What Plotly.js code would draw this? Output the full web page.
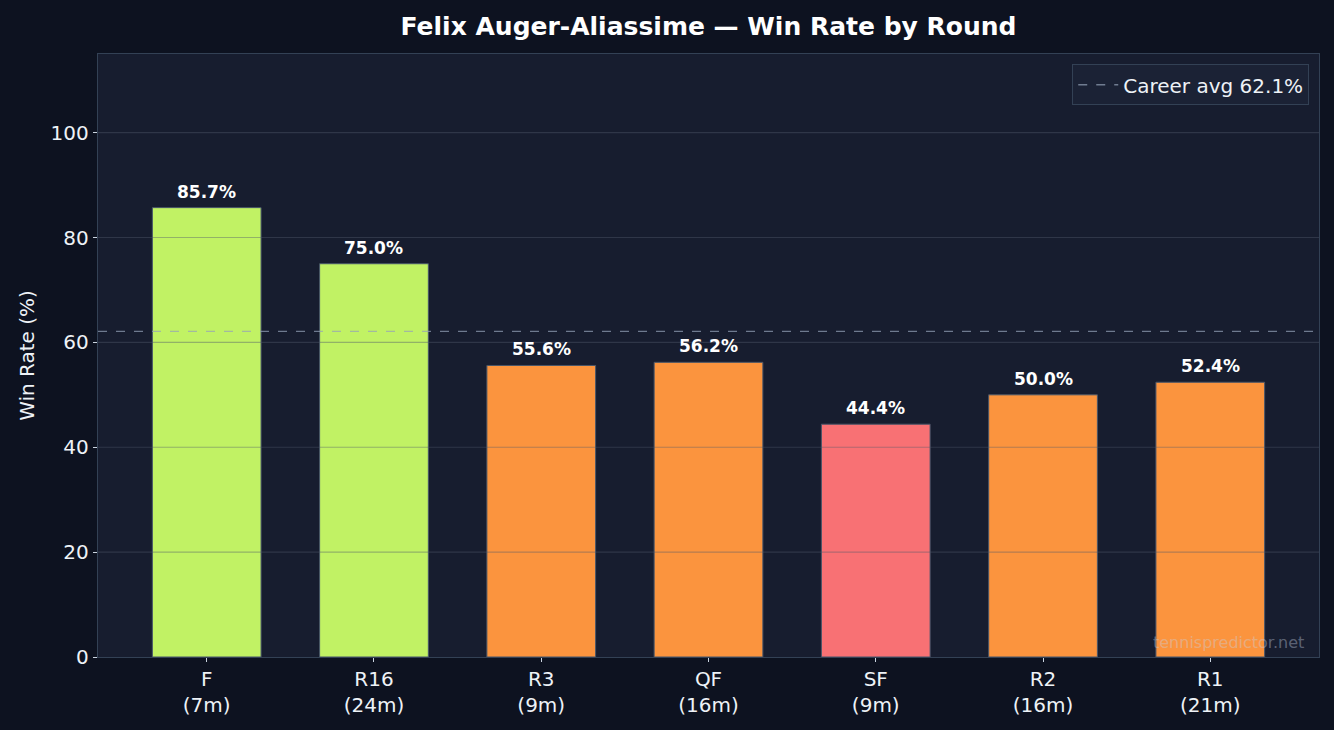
<!DOCTYPE html>
<html>
<head>
<meta charset="utf-8">
<script src="https://cdn.plot.ly/plotly-3.0.1.min.js"></script>
<style>
  html, body { margin: 0; padding: 0; background: #0d1220; }
  #chart { width: 1334px; height: 730px; }
</style>
</head>
<body>
<div id="chart"></div>
<script>
// rounds in the order they are shown, with number of matches played
const rounds = ["F", "R16", "R3", "QF", "SF", "R2", "R1"];
const matches = [7, 24, 9, 16, 9, 16, 21];
const winRates = [85.7, 75.0, 55.6, 56.2, 44.4, 50.0, 52.4];
const careerAvg = 62.1;
const yTicks = [0, 20, 40, 60, 80, 100];

const tickLabels = rounds.map((r, i) => `${r}<br>(${matches[i]}m)`);

function barColor(rate) {
  if (rate >= 65) return "#c1f264";
  if (rate >= 45) return "#fb943e";
  return "#f87174";
}

const bars = {
  type: "bar",
  x: rounds,
  y: winRates,
  width: 0.65,
  marker: {
    color: winRates.map(barColor),
    line: { color: "#475569", width: 1 },
  },
  hoverinfo: "skip",
  showlegend: false,
};

// grid drawn over the bars, like the original
const gridShapes = yTicks.slice(1).map((v) => ({
  type: "line",
  xref: "paper",
  x0: 0,
  x1: 1,
  yref: "y",
  y0: v,
  y1: v,
  layer: "above",
  line: { color: "rgba(80,90,108,0.42)", width: 1.2 },
}));

const valueLabels = winRates.map((v, i) => ({
  x: rounds[i],
  y: v,
  xref: "x",
  yref: "y",
  text: `<b>${v.toFixed(1)}%</b>`,
  showarrow: false,
  yanchor: "bottom",
  yshift: 4,
  font: { size: 17, color: "#ffffff" },
}));

const layout = {
  width: 1334,
  height: 730,
  paper_bgcolor: "#0d1220",
  plot_bgcolor: "#171d2f",
  font: { family: "DejaVu Sans", color: "#e2e8f0", size: 20 },
  margin: { l: 98, r: 15, t: 54, b: 73 },
  title: {
    text: "<b>Felix Auger-Aliassime — Win Rate by Round</b>",
    font: { size: 25, color: "#ffffff" },
    x: 0.5,
    xref: "paper",
    xanchor: "center",
    y: 0.964,
    yref: "container",
    yanchor: "middle",
  },
  xaxis: {
    tickvals: rounds,
    ticktext: tickLabels,
    range: [-0.65, 6.65],
    showgrid: false,
    showline: true,
    mirror: true,
    linecolor: "#334155",
    linewidth: 1.2,
    ticks: "outside",
    ticklen: 4,
    tickcolor: "#cbd5e1",
    tickfont: { size: 20, color: "#eef2f7" },
    zeroline: false,
  },
  yaxis: {
    range: [0, 115],
    tickvals: yTicks,
    showgrid: false,
    showline: true,
    mirror: true,
    linecolor: "#334155",
    linewidth: 1.2,
    ticks: "outside",
    ticklen: 4,
    tickcolor: "#cbd5e1",
    tickfont: { size: 20, color: "#eef2f7" },
    zeroline: false,
    title: { text: "Win Rate (%)", font: { size: 20, color: "#eef2f7" }, standoff: 10 },
  },
  showlegend: true,
  legend: {
    x: 0.992,
    y: 0.983,
    xanchor: "right",
    yanchor: "top",
    bgcolor: "#1b2235",
    bordercolor: "#334155",
    borderwidth: 1,
    itemwidth: 40,
    font: { size: 20, color: "#eef2f7" },
  },
  shapes: gridShapes.concat([
    {
      type: "line",
      xref: "paper",
      x0: 0,
      x1: 1,
      yref: "y",
      y0: careerAvg,
      y1: careerAvg,
      layer: "above",
      line: { color: "rgba(148,163,184,0.7)", width: 1.3, dash: "dash" },
      showlegend: true,
      name: `Career avg ${careerAvg}%`,
    },
  ]),
  annotations: valueLabels.concat([
    {
      text: "tennispredictor.net",
      xref: "paper",
      yref: "paper",
      x: 0.989,
      y: 0.005,
      xanchor: "right",
      yanchor: "bottom",
      showarrow: false,
      font: { size: 16, color: "rgba(200,210,225,0.4)" },
    },
  ]),
};

Plotly.newPlot("chart", [bars], layout, { staticPlot: true });
</script>
</body>
</html>
